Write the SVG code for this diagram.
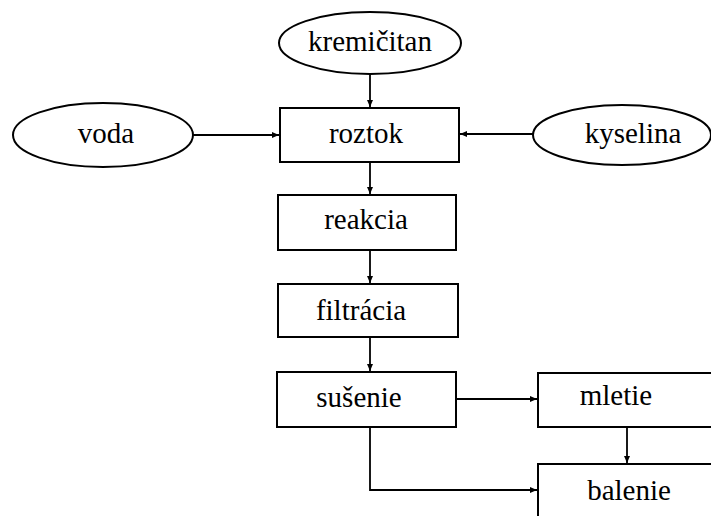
<svg xmlns="http://www.w3.org/2000/svg" width="711" height="516" viewBox="0 0 711 516">
<style>
.n{fill:#fff;stroke:#000;stroke-width:2}
.t{font-family:'Liberation Serif','DejaVu Serif',serif;font-size:29px;fill:#000;text-anchor:middle}
.c{fill:none;stroke:#000;stroke-width:1.8}
</style>
<defs>
<marker id="a" markerWidth="8" markerHeight="8" refX="7" refY="4" orient="auto" markerUnits="userSpaceOnUse">
<path d="M0,1 L7,4 L0,7 Z" fill="#000"/>
</marker>
</defs>
<rect width="711" height="516" fill="#fff"/>
<g id="connectors">
<path class="c" d="M370,74 V107" marker-end="url(#a)"/>
<path class="c" d="M193,135 H279" marker-end="url(#a)"/>
<path class="c" d="M533,134 H460" marker-end="url(#a)"/>
<path class="c" d="M370,162 V194" marker-end="url(#a)"/>
<path class="c" d="M370,250 V283" marker-end="url(#a)"/>
<path class="c" d="M370,337 V371" marker-end="url(#a)"/>
<path class="c" d="M456,399 H537" marker-end="url(#a)"/>
<path class="c" d="M627,427 V463" marker-end="url(#a)"/>
<path class="c" d="M370,427 V490 H537" marker-end="url(#a)"/>
</g>
<g id="kremicitan">
<ellipse class="n" cx="370" cy="43" rx="91" ry="31"/>
<text class="t" x="370" y="51">kremičitan</text>
</g>
<g id="voda">
<ellipse class="n" cx="103" cy="135" rx="90" ry="32"/>
<text class="t" x="106" y="143">voda</text>
</g>
<g id="kyselina">
<ellipse class="n" cx="622" cy="135" rx="89" ry="30"/>
<text class="t" x="633" y="143">kyselina</text>
</g>
<g id="roztok">
<rect class="n" x="280" y="108" width="179" height="54"/>
<text class="t" x="366" y="143">roztok</text>
</g>
<g id="reakcia">
<rect class="n" x="278" y="195" width="178" height="55"/>
<text class="t" x="366" y="229">reakcia</text>
</g>
<g id="filtracia">
<rect class="n" x="278" y="284" width="180" height="53"/>
<text class="t" x="361" y="320">filtrácia</text>
</g>
<g id="susenie">
<rect class="n" x="277" y="372" width="179" height="55"/>
<text class="t" x="359" y="407">sušenie</text>
</g>
<g id="mletie">
<rect class="n" x="538" y="373" width="190" height="54"/>
<text class="t" x="616" y="405">mletie</text>
</g>
<g id="balenie">
<rect class="n" x="538" y="464" width="190" height="60"/>
<text class="t" x="629" y="500">balenie</text>
</g>
</svg>
